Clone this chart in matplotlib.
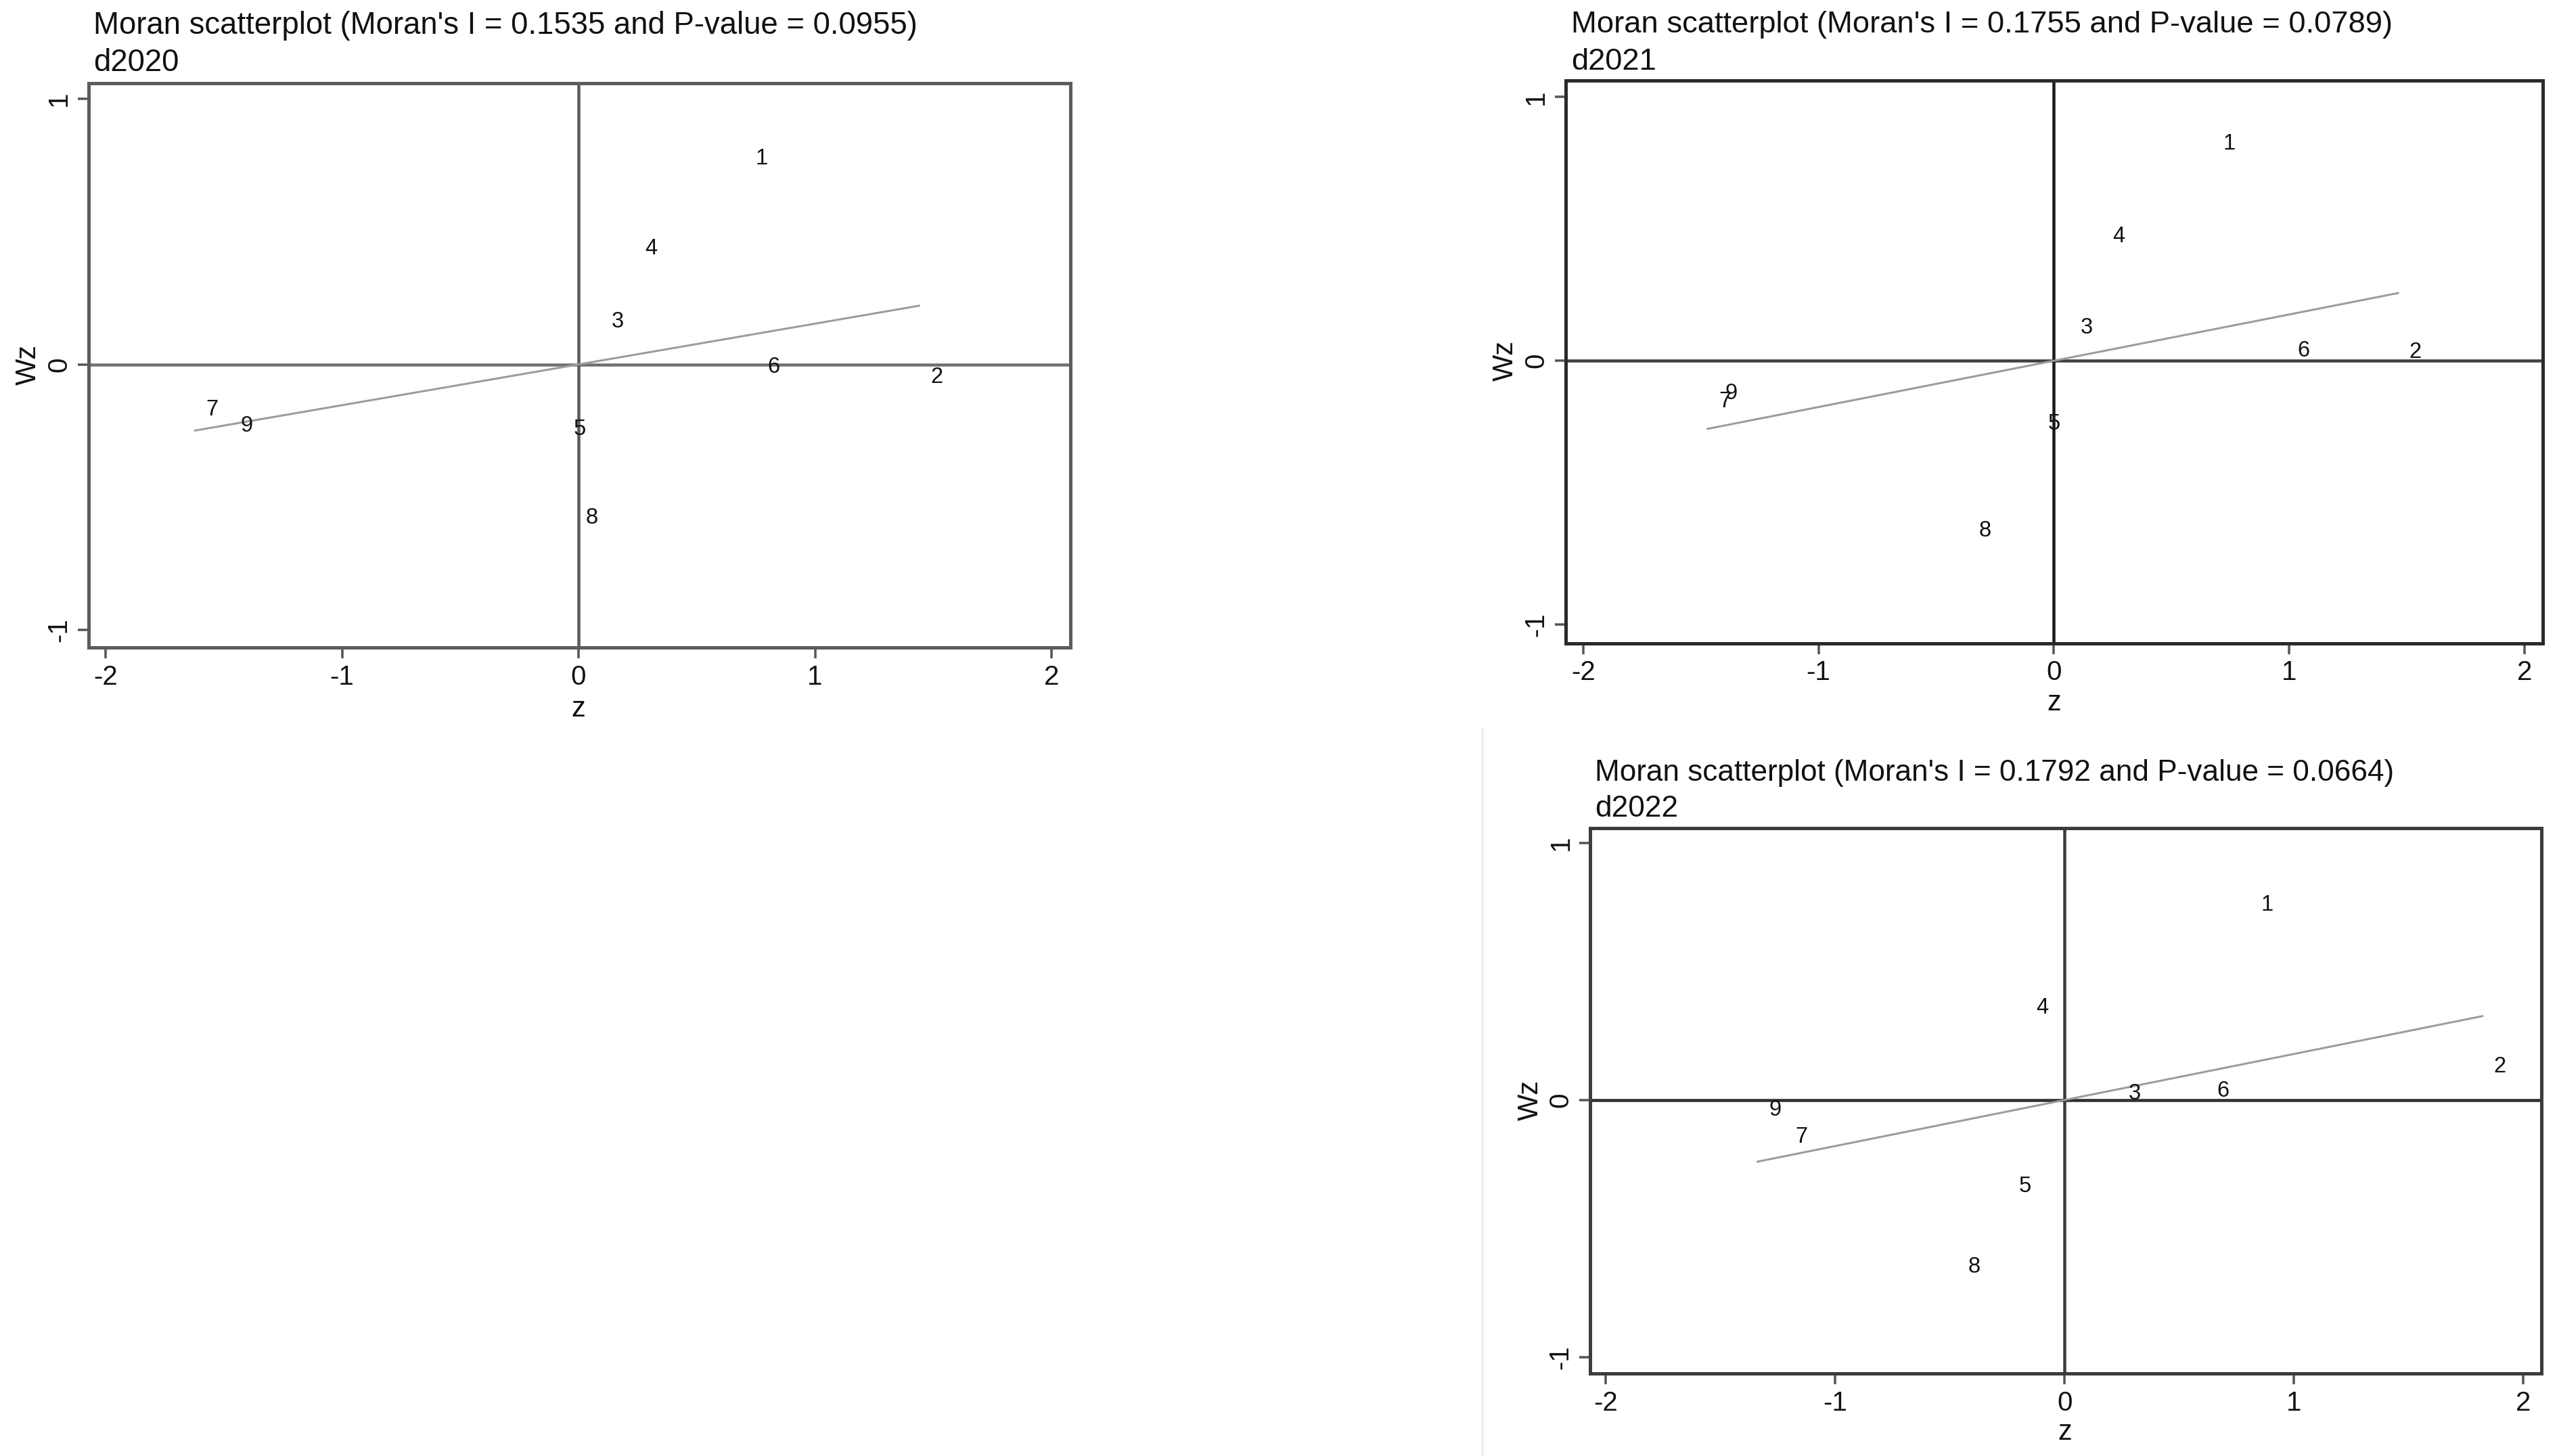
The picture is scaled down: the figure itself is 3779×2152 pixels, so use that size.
import matplotlib
matplotlib.use("Agg")
import matplotlib.pyplot as plt
from matplotlib.lines import Line2D

plt.rcParams['font.family'] = ['Liberation Sans', 'DejaVu Sans']

# ---------------- data ----------------
years = ['d2020', 'd2021', 'd2022']
morans_i = [0.1535, 0.1755, 0.1792]
p_values = [0.0955, 0.0789, 0.0664]
region_ids = ['1', '2', '3', '4', '5', '6', '7', '8', '9']

z_2020 = [0.700, 1.440, 0.091, 0.234, -0.069, 0.751, -1.622, -0.017, -1.476]
wz_2020 = [0.774, -0.047, 0.160, 0.435, -0.244, -0.009, -0.170, -0.577, -0.232]

z_2021 = [0.671, 1.462, 0.065, 0.202, -0.072, 0.986, -1.471, -0.366, -1.444]
wz_2021 = [0.822, 0.032, 0.125, 0.472, -0.239, 0.037, -0.154, -0.645, -0.124]

z_2022 = [0.808, 1.821, 0.228, -0.173, -0.250, 0.614, -1.222, -0.469, -1.339]
wz_2022 = [0.760, 0.130, 0.025, 0.358, -0.335, 0.034, -0.144, -0.650, -0.038]

x_ticks = [-2, -1, 0, 1, 2]
y_ticks = [-1, 0, 1]
x_title = 'z'
y_title = 'Wz'

z_series = [z_2020, z_2021, z_2022]
wz_series = [wz_2020, wz_2021, wz_2022]

# ---------------- layout (pixels) ----------------
W, H = 3779, 2152
DPI = 100

layouts = [
    dict(box=(130.6, 122.6, 1581.6, 957.4), xlim=(-2.073, 2.079), ylim=(-1.067, 1.060),
         tx=138, t1=49.6, t2=104.7, xlab_base=1059, ylab_base=53,
         frame='#5c5c5c', hz='#707070', vz='#5a5a5a', tfs=32.8),
    dict(box=(2313.6, 119.2, 3757.7, 950.5), xlim=(-2.075, 2.076), ylim=(-1.0705, 1.062),
         tx=2322, t1=48.2, t2=103.0, xlab_base=1050.4, ylab_base=2235.6,
         frame='#2a2a2a', hz='#404040', vz='#1a1a1a', tfs=32.65),
    dict(box=(2350.0, 1223.6, 3755.7, 2030.3), xlim=(-2.069, 2.0776), ylim=(-1.065, 1.059),
         tx=2357, t1=1153.8, t2=1207.0, xlab_base=2128, ylab_base=2273,
         frame='#3c3c3c', hz='#2e2e2e', vz='#3a3a3a', tfs=31.8),
]

fig = plt.figure(figsize=(W / DPI, H / DPI), dpi=DPI)
fig.patch.set_facecolor('white')

# faint separator line on the left of the lower-right panel
fig.add_artist(Line2D([2190.5 / W, 2190.5 / W], [1 - 1077 / H, 0], transform=fig.transFigure,
                      color='#f1f1f1', linewidth=4 * 72 / DPI))

px = 72 / DPI  # points per pixel

for k, lay in enumerate(layouts):
    l, t, r, b = lay['box']
    ax = fig.add_axes([l / W, 1 - b / H, (r - l) / W, (b - t) / H])
    ax.set_xlim(*lay['xlim'])
    ax.set_ylim(*lay['ylim'])
    ax.set_facecolor('white')

    for s in ax.spines.values():
        s.set_linewidth(5 * px)
        s.set_color(lay['frame'])

    ax.axhline(0, color=lay['hz'], linewidth=4.5 * px, zorder=2)
    ax.axvline(0, color=lay['vz'], linewidth=4.5 * px, zorder=2)

    zs = z_series[k]
    wzs = wz_series[k]
    zmin, zmax = min(zs), max(zs)
    I = morans_i[k]
    ax.plot([zmin, zmax], [I * zmin, I * zmax], color='#9c9c9c', linewidth=3 * px, zorder=3)

    for lab, zx, wy in zip(region_ids, zs, wzs):
        ax.annotate(lab, (zx, wy), xytext=(18.5, 0), textcoords='offset points',
                    ha='center', va='center', fontsize=23.5, color='#111111', zorder=5)

    ax.set_xticks(x_ticks)
    ax.set_yticks(y_ticks)
    ax.set_xticklabels([str(v) for v in x_ticks])
    ax.set_yticklabels([str(v) for v in y_ticks])
    ax.tick_params(axis='both', direction='out', length=16 * px, width=3.5 * px,
                   color='#555555', labelsize=29, pad=6, labelcolor='#111111')
    for tl in ax.get_yticklabels():
        tl.set_rotation(90)
        tl.set_va('center')

    ax.set_xlabel(x_title, fontsize=30, color='#111111')
    ax.set_ylabel(y_title, fontsize=30, color='#111111')
    xfrac0 = (0 - lay['xlim'][0]) / (lay['xlim'][1] - lay['xlim'][0])
    yfrac0 = (0 - lay['ylim'][0]) / (lay['ylim'][1] - lay['ylim'][0])
    ax.xaxis.set_label_coords(xfrac0, (b - lay['xlab_base']) / (b - t))
    ax.xaxis.label.set_va('baseline')
    ax.yaxis.set_label_coords((lay['ylab_base'] - l) / (r - l), yfrac0)
    ax.yaxis.label.set_va('baseline')

    title1 = "Moran scatterplot (Moran's I = %.4f and P-value = %.4f)" % (morans_i[k], p_values[k])
    fig.text(lay['tx'] / W, 1 - lay['t1'] / H, title1, ha='left', va='baseline',
             fontsize=lay['tfs'], color='#111111')
    fig.text(lay['tx'] / W, 1 - lay['t2'] / H, years[k], ha='left', va='baseline',
             fontsize=lay['tfs'], color='#111111')

fig.savefig('out.png', dpi=DPI, facecolor='white')
